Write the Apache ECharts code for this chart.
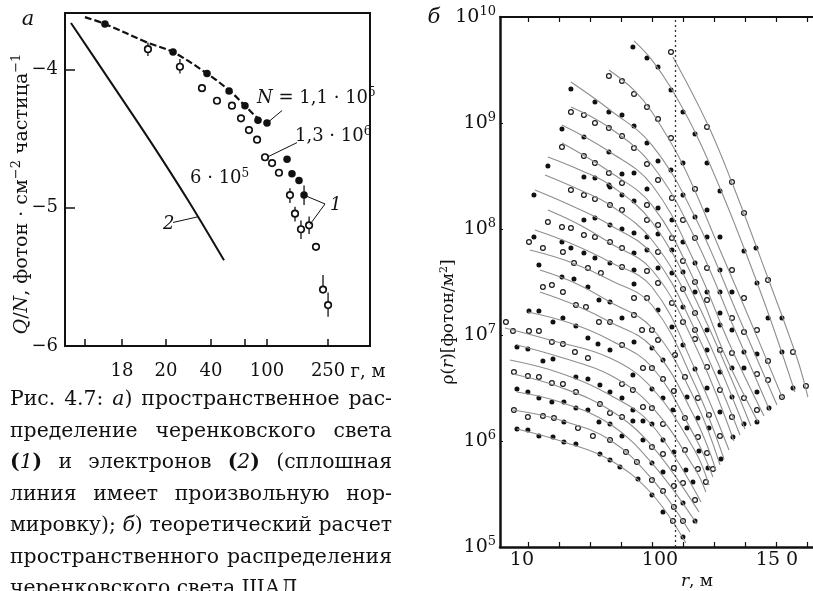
<!DOCTYPE html>
<html>
<head>
<meta charset="utf-8">
<script src="https://cdn.jsdelivr.net/npm/echarts@6/dist/echarts.min.js"></script>
<style>
html, body { margin: 0; padding: 0; background: #fff; }
#chart { width: 813px; height: 591px; }
</style>
</head>
<body>
<div id="chart"></div>
<script>
// ---------- Panel а: Q/N versus distance (x in lg r, y in lg Q/N) ----------
const aTickPos = [0.81, 1.052, 1.34, 1.634, 1.856, 2.0, 2.399];
const aLabelPos = [1.052, 1.34, 1.634, 2.0, 2.399];
const aLabelText = ['18', '20', '40', '100', '250'];
const aYTicks = [-6, -5, -4];

// Cherenkov light, filled circles
const aFilled = [[0.941,-3.669],[1.386,-3.873],[1.608,-4.028],[1.752,-4.155],[1.856,-4.261],
  [1.941,-4.366],[2.0,-4.387],[2.131,-4.648],[2.163,-4.754],[2.209,-4.803],[2.242,-4.908]];
// Cherenkov light, open circles
const aOpen = [[1.222,-3.852],[1.431,-3.979],[1.575,-4.134],[1.673,-4.225],[1.771,-4.261],
  [1.830,-4.352],[1.882,-4.437],[1.935,-4.507],[1.987,-4.634],[2.033,-4.676],[2.078,-4.746],
  [2.150,-4.908],[2.183,-5.042],[2.222,-5.155],[2.275,-5.127],[2.320,-5.282],[2.366,-5.592],[2.399,-5.704]];
// error bars: [lg r, low, high]
const aErr = [[1.222,-3.803,-3.901],[1.431,-3.923,-4.028],[2.150,-4.859,-4.965],[2.183,-4.993,-5.099],
  [2.222,-5.092,-5.225],[2.275,-5.063,-5.190],[2.242,-4.838,-4.979],[2.366,-5.486,-5.613],[2.399,-5.613,-5.789]];
// dashed fit through the N = 1,1·10^5 points
const aFit = [[0.810,-3.620],[0.941,-3.669],[1.216,-3.803],[1.386,-3.873],[1.608,-4.028],
  [1.758,-4.155],[1.856,-4.261],[1.941,-4.352],[2.0,-4.387]];
// electrons (curve 2)
const aElectron = [[0.719,-3.662],[0.980,-4.092],[1.239,-4.521],[1.487,-4.951],[1.719,-5.380]];

// annotations of panel а
const aNotes = ['{i|N}{n| = 1,1 · 10}{s|5}', '{n|1,3 · 10}{s|6}', '{n|6 · 10}{s|5}', '{i|2}', '{i|1}'];
const aNotePos = [[1.935,-4.204],[2.183,-4.486],[1.497,-4.789],[1.320,-5.120],[2.412,-4.979]];
const aLeaders = [
  [[2.098,-4.296],[2.0,-4.387]],
  [[2.196,-4.528],[2.0,-4.634]],
  [[1.386,-5.106],[1.556,-5.063]],
  [[2.379,-4.972],[2.242,-4.908]],
  [[2.379,-4.972],[2.281,-5.120]]
];

// ---------- Panel б: ρ(r) (x in lg r, y in lg ρ) ----------
const bTickPos = [1.043,1.268,1.493,1.717,1.942,2.167,2.391,2.616,2.841,3.065];
const bLabelPos = [1, 2, 2.848];
const bLabelText = ['10', '100', '15 0'];
const bDottedR = 2.109;

// theoretical curves, one per shower size
const bCurves = [
  [[2.094,9.623],[2.348,8.981],[2.543,8.368],[2.761,7.613],[2.993,6.783],[3.072,6.415]],
  [[1.812,9.774],[1.942,9.594],[2.080,9.330],[2.254,8.915],[2.435,8.387],[2.609,7.821],[2.797,7.160],[2.978,6.462]],
  [[1.630,9.500],[1.812,9.311],[1.942,9.104],[2.167,8.604],[2.435,7.802],[2.652,7.142],[2.891,6.396]],
  [[1.355,9.387],[1.638,9.123],[1.942,8.792],[2.254,8.113],[2.580,7.142],[2.848,6.340]],
  [[1.355,9.151],[1.638,8.953],[1.942,8.604],[2.254,7.915],[2.543,7.047],[2.797,6.283]],
  [[1.290,8.981],[1.638,8.726],[1.942,8.415],[2.254,7.679],[2.507,6.906],[2.754,6.236]],
  [[1.290,8.811],[1.638,8.538],[1.942,8.226],[2.254,7.500],[2.471,6.811],[2.710,6.179]],
  [[1.188,8.679],[1.420,8.557],[1.638,8.415],[1.942,8.066],[2.254,7.349],[2.659,6.142]],
  [[1.167,8.509],[1.420,8.368],[1.638,8.226],[1.942,7.896],[2.254,7.208],[2.616,6.113]],
  [[1.094,8.368],[1.348,8.226],[1.638,8.038],[1.942,7.764],[2.254,7.047],[2.580,6.057]],
  [[1.188,8.179],[1.420,8.038],[1.638,7.868],[1.942,7.613],[2.254,6.906],[2.536,6.000]],
  [[1.094,7.991],[1.348,7.868],[1.638,7.689],[1.942,7.453],[2.254,6.679],[2.500,5.915]],
  [[1.058,7.802],[1.348,7.689],[1.638,7.519],[1.942,7.283],[2.254,6.528],[2.464,5.830]],
  [[1.130,7.613],[1.384,7.491],[1.638,7.311],[1.942,7.066],[2.254,6.387],[2.435,5.774]],
  [[1.130,7.406],[1.384,7.283],[1.638,7.123],[1.942,6.887],[2.254,6.217],[2.406,5.726]],
  [[1.043,7.217],[1.348,7.113],[1.638,6.953],[1.942,6.698],[2.254,6.038],[2.384,5.660]],
  [[0.877,7.066],[1.203,6.953],[1.638,6.783],[1.942,6.500],[2.254,5.906],[2.355,5.585]],
  [[0.964,6.906],[1.275,6.792],[1.638,6.623],[1.942,6.321],[2.254,5.736],[2.333,5.519]],
  [[0.913,6.764],[1.275,6.642],[1.638,6.434],[1.942,6.151],[2.297,5.425]],
  [[0.935,6.632],[1.275,6.509],[1.638,6.292],[1.942,5.953],[2.283,5.330]],
  [[0.964,6.462],[1.275,6.368],[1.638,6.160],[1.942,5.792],[2.268,5.217]],
  [[0.935,6.292],[1.275,6.198],[1.638,6.009],[1.942,5.642],[2.217,5.142]],
  [[0.964,6.113],[1.304,5.991],[1.638,5.821],[1.942,5.500],[2.188,5.038]]
];

// simulated densities, filled circles
const bFilled = [[1.804,9.717],[1.906,9.613],[1.355,9.321],[1.529,9.198],[1.630,9.104],[1.725,9.075],[1.812,8.972],[1.906,8.811],[1.290,8.943],[1.449,8.868],[1.630,8.726],[1.725,8.519],[1.812,8.528],[1.188,8.594],[1.449,8.491],[1.529,8.481],[1.630,8.415],
  [1.986,9.528],[2.080,9.311],[2.167,9.104],[2.254,8.896],[1.986,8.642],[2.080,8.557],[2.167,8.623],[2.341,8.623],
  [2.435,8.358],[2.167,8.321],[1.986,8.198],[2.341,8.179],[2.087,8.085],[2.254,8.113],[2.435,7.925],[2.341,7.925],[1.986,7.953],[2.167,7.877],[2.696,7.821],[2.609,7.792],[2.087,7.802],[2.254,7.679],[2.435,7.613],[2.703,7.491],[1.986,7.632],[2.087,7.585],[2.167,7.594],[2.254,7.406],[2.341,7.406],[2.435,7.406],[2.522,7.406],[2.167,7.264],[2.435,7.208],[2.884,7.160],[2.783,7.160],[1.986,7.236],[2.087,7.075],[2.341,7.047],[2.435,7.094],[2.522,7.047],[2.167,6.906],[2.341,6.858],[2.609,6.840],[2.703,6.821],[2.884,6.840],[1.942,6.877],[2.022,6.764],
  [2.254,6.679],[2.435,6.651],[2.522,6.689],[2.609,6.689],[2.964,6.500],[1.942,6.491],[2.022,6.406],[2.196,6.415],[2.341,6.500],[2.522,6.415],[2.703,6.462],[2.790,6.311],[2.094,6.292],[2.275,6.217],[2.435,6.274],[2.609,6.160],[2.703,6.179],[1.942,6.160],[2.022,6.009],[2.196,6.123],[2.355,6.123],[2.529,6.038],[2.101,5.896],[2.283,5.906],[2.442,5.830],[1.942,5.792],[2.022,5.708],[2.188,5.726],[2.348,5.745],[2.239,5.613],[1.942,5.491],[2.022,5.330],[2.167,5.415],[2.254,5.245],[2.167,5.094],
  [1.087,8.321],[1.638,8.396],[1.725,8.321],[1.812,8.264],[1.906,8.377],[1.449,8.085],[1.529,8.104],[1.638,8.038],[1.725,8.000],[1.812,7.962],[1.906,7.925],[1.087,7.925],[1.290,7.877],[1.355,7.821],[1.449,7.774],[1.529,7.726],[1.812,7.774],[1.906,7.802],[1.638,7.679],[1.812,7.613],[1.123,7.660],[1.290,7.547],[1.377,7.528],[1.478,7.453],[1.812,7.481],[1.558,7.330],[1.638,7.311],[1.051,7.226],[1.123,7.226],[1.297,7.160],[1.391,7.085],[1.478,6.972],[1.725,7.160],[1.225,7.123],[1.551,6.915],[1.638,6.858],[1.812,6.934],[0.964,6.887],[1.043,6.868],[1.152,6.755],[1.225,6.774],
  [1.391,6.604],[1.478,6.585],[1.565,6.528],[1.638,6.462],[1.804,6.623],[0.964,6.491],[1.043,6.462],[1.123,6.406],[1.217,6.368],[1.304,6.368],[1.391,6.311],[1.478,6.292],[1.725,6.406],[1.804,6.292],[1.304,6.179],[1.558,6.179],[1.638,6.160],[1.725,6.047],[1.804,6.189],[1.877,6.189],[1.877,6.009],[0.964,6.113],[1.043,6.104],[1.123,6.047],[1.225,6.038],[1.304,5.991],[1.391,5.972],[1.565,5.877],[1.638,5.821],[1.710,5.755],[1.841,5.642]];

// simulated densities, open circles
const bOpen = [[1.630,9.443],[1.725,9.396],[1.812,9.274],[1.906,9.151],[1.355,9.104],[1.449,9.075],[1.529,9.000],[1.630,8.953],[1.725,8.877],[1.812,8.764],[1.906,8.613],[1.290,8.774],[1.449,8.689],[1.529,8.623],[1.630,8.528],[1.725,8.434],
  [2.080,9.670],[1.986,9.038],[2.080,8.858],[2.341,8.962],[1.986,8.462],[2.522,8.443],
  [2.254,8.377],[2.087,8.292],[2.609,8.151],[2.167,8.085],[1.986,8.038],[2.254,7.915],[2.087,7.915],[1.986,7.783],[2.167,7.698],[2.341,7.632],[2.522,7.613],[2.783,7.519],[2.254,7.500],[1.986,7.491],[2.167,7.434],[2.609,7.349],[2.087,7.302],[2.254,7.208],[2.341,7.330],[2.522,7.160],[2.167,7.123],[2.254,7.047],[2.609,7.028],[2.703,7.047],[1.942,7.047],[1.986,6.953],[2.254,6.962],[2.435,6.858],[2.522,6.830],[2.783,6.755],[2.964,6.840],[2.109,6.811],
  [1.942,6.689],[2.022,6.585],[2.181,6.604],[2.341,6.698],[2.703,6.632],[2.783,6.575],[2.884,6.415],[3.058,6.519],[2.101,6.472],[2.275,6.406],[2.435,6.481],[2.609,6.406],[2.703,6.292],[1.942,6.311],[2.022,6.160],[2.181,6.217],[2.355,6.245],[2.522,6.226],[2.275,6.038],[2.435,6.047],[1.942,5.943],[2.022,5.877],[2.181,5.915],[2.341,5.887],[2.101,5.745],[2.275,5.736],[2.384,5.736],[1.942,5.632],[2.022,5.528],[2.101,5.575],[2.167,5.604],[2.333,5.613],[2.101,5.377],[2.254,5.443],[2.094,5.245],[2.167,5.245],
  [1.355,8.368],[1.449,8.321],[1.529,8.283],[1.638,8.226],[1.725,8.179],[1.906,8.226],[1.188,8.066],[1.290,8.019],[1.355,8.009],[1.906,8.085],[1.051,7.877],[1.152,7.821],[1.297,7.783],[1.449,7.943],[1.529,7.925],[1.638,7.877],[1.725,7.821],[1.725,7.642],[1.906,7.604],[1.377,7.679],[1.478,7.632],[1.572,7.585],[1.152,7.453],[1.217,7.472],[1.297,7.406],[1.812,7.349],[1.906,7.349],[1.391,7.283],[1.464,7.264],[1.558,7.123],[1.638,7.123],[1.812,7.189],[0.884,7.123],[0.935,7.038],[1.051,7.038],[1.123,7.038],[1.217,6.934],[1.297,6.915],[1.384,6.840],[1.725,6.906],[1.870,7.047],[1.478,6.783],
  [0.942,6.651],[1.043,6.613],[1.123,6.604],[1.217,6.547],[1.297,6.538],[1.391,6.462],[1.725,6.538],[1.877,6.689],[1.565,6.349],[1.638,6.264],[1.804,6.481],[1.877,6.321],[0.942,6.292],[1.043,6.226],[1.152,6.236],[1.232,6.217],[1.406,6.123],[1.514,6.047],[1.638,6.009],[1.725,6.226],[1.754,5.896],[1.833,5.802]];

// ---------- caption ----------
const captionLines = [
  ['Рис.', '4.7:', '{i|а})', 'пространственное', 'рас-'],
  ['пределение', 'черенковского', 'света'],
  ['{b|(}{i|1}{b|)}', 'и', 'электронов', '{b|(}{i|2}{b|)}', '(сплошная'],
  ['линия', 'имеет', 'произвольную', 'нор-'],
  ['мировку);', '{i|б})', 'теоретический', 'расчет'],
  ['пространственного', 'распределения'],
  ['черенковского', 'света', 'ШАЛ']
];

// ---------- drawing ----------
const SERIF = '"DejaVu Serif", serif';
const INK = '#111';
const chart = echarts.init(document.getElementById('chart'), null, { renderer: 'canvas' });

function near(arr, v) {
  for (let i = 0; i < arr.length; i++) if (Math.abs(arr[i] - v) < 1e-6) return i;
  return -1;
}

// caption layout: justified lines built word by word
const CAP_SIZE = 20.4;
const capRich = {
  i: { fontFamily: SERIF, fontSize: CAP_SIZE, fontStyle: 'italic', fill: INK },
  b: { fontFamily: SERIF, fontSize: CAP_SIZE, fontWeight: 'bold', fill: INK }
};
const measureCtx = document.createElement('canvas').getContext('2d');
function segFont(k) {
  return (k === 'i' ? 'italic ' : '') + (k === 'b' ? 'bold ' : '') + CAP_SIZE + 'px "DejaVu Serif"';
}
function wordWidth(w) {
  let total = 0;
  w.replace(/\{(\w)\|([^}]*)\}|([^{]+)/g, (m, k, t, plain) => {
    measureCtx.font = segFont(k || 'n');
    total += measureCtx.measureText(k ? t : plain).width;
    return m;
  });
  return total;
}
const capLeft = 10, capRight = 392, capTop = 400, capStep = 31.5;
const capGraphics = [];
measureCtx.font = segFont('n');
const spaceW = measureCtx.measureText(' ').width;
captionLines.forEach((words, li) => {
  const widths = words.map(wordWidth);
  const sum = widths.reduce((a, b) => a + b, 0);
  const lastLine = li === captionLines.length - 1;
  const gap = lastLine ? spaceW : (capRight - capLeft - sum) / (words.length - 1);
  let x = capLeft;
  words.forEach((w, wi) => {
    capGraphics.push({
      type: 'text', x: x, y: capTop + li * capStep, silent: true,
      style: { text: w, rich: capRich, fontFamily: SERIF, fontSize: CAP_SIZE, fill: INK,
               align: 'left', verticalAlign: 'middle' }
    });
    x += widths[wi] + gap;
  });
});

// rich styles for superscripts and italics in graphic text
const supRich = (size) => ({
  i: { fontFamily: SERIF, fontSize: size, fontStyle: 'italic', fill: INK, lineHeight: size + 4 },
  s: { fontFamily: SERIF, fontSize: Math.round(size * 0.66), fill: INK, verticalAlign: 'top', lineHeight: size + 4 },
  n: { fontFamily: SERIF, fontSize: size, fill: INK, lineHeight: size + 4 }
});

const titleGraphics = [
  { type: 'text', x: 28, y: 20, style: { text: 'а', fontFamily: SERIF, fontSize: 21, fontStyle: 'italic', fill: INK, align: 'center', verticalAlign: 'middle' } },
  { type: 'text', x: 434, y: 18, style: { text: 'б', fontFamily: SERIF, fontSize: 21, fontStyle: 'italic', fill: INK, align: 'center', verticalAlign: 'middle' } },
  { type: 'text', x: 22, y: 194, rotation: Math.PI / 2,
    style: { text: '{i|Q}{n|/}{i|N}{n|, фотон · см}{s|−2}{n| частица}{s|−1}', rich: supRich(19),
             fontFamily: SERIF, fontSize: 19, fill: INK, align: 'center', verticalAlign: 'middle' } },
  { type: 'text', x: 368, y: 372, style: { text: 'г, м', fontFamily: SERIF, fontSize: 18, fill: INK, align: 'center', verticalAlign: 'middle' } },
  { type: 'text', x: 449, y: 322, rotation: Math.PI / 2,
    style: { text: '{n|ρ(}{i|r}{n|)[фотон/м}{s|2}{n|]}', rich: supRich(17),
             fontFamily: SERIF, fontSize: 17, fill: INK, align: 'center', verticalAlign: 'middle' } },
  { type: 'text', x: 697, y: 582,
    style: { text: '{i|r}{n|, м}', rich: supRich(17), fontFamily: SERIF, fontSize: 17, fill: INK, align: 'center', verticalAlign: 'middle' } }
];

const series = [];

// panel а
series.push({
  type: 'line', xAxisIndex: 0, yAxisIndex: 0, data: aElectron, smooth: 0.3,
  showSymbol: false, lineStyle: { color: INK, width: 2 }, silent: true
});
series.push({
  type: 'line', xAxisIndex: 0, yAxisIndex: 0, data: aFit, smooth: 0.35,
  showSymbol: false, lineStyle: { color: INK, width: 2.2, type: [7, 3] }, silent: true
});
series.push({
  type: 'custom', xAxisIndex: 0, yAxisIndex: 0, data: aErr,
  encode: { x: 0, y: [1, 2] }, silent: true,
  renderItem: (params, api) => {
    const x = api.value(0);
    const p1 = api.coord([x, api.value(1)]);
    const p2 = api.coord([x, api.value(2)]);
    return { type: 'line', shape: { x1: p1[0], y1: p1[1], x2: p2[0], y2: p2[1] },
             style: { stroke: INK, lineWidth: 1.3 } };
  }
});
series.push({
  type: 'scatter', xAxisIndex: 0, yAxisIndex: 0, data: aOpen, symbol: 'circle', symbolSize: 6.5,
  itemStyle: { color: '#fff', borderColor: INK, borderWidth: 1.7, opacity: 1 }, silent: true
});
series.push({
  type: 'scatter', xAxisIndex: 0, yAxisIndex: 0, data: aFilled, symbol: 'circle', symbolSize: 7.5,
  itemStyle: { color: INK, opacity: 1 }, silent: true
});
aLeaders.forEach(seg => series.push({
  type: 'line', xAxisIndex: 0, yAxisIndex: 0, data: seg, showSymbol: false,
  lineStyle: { color: INK, width: 1 }, silent: true
}));

// panel б
bCurves.forEach((c, i) => series.push({
  type: 'line', xAxisIndex: 1, yAxisIndex: 1, data: c, smooth: 0.4,
  showSymbol: false, lineStyle: { color: '#8e8e8e', width: 1.1 }, silent: true,
  markLine: i === 0 ? {
    silent: true, symbol: ['none', 'none'], label: { show: false },
    lineStyle: { color: '#333', width: 1.3, type: [2, 3] },
    data: [{ xAxis: bDottedR }]
  } : undefined
}));
series.push({
  type: 'scatter', xAxisIndex: 1, yAxisIndex: 1, data: bOpen, symbol: 'circle', symbolSize: 4.8,
  itemStyle: { color: '#fff', borderColor: '#1a1a1a', borderWidth: 1.2, opacity: 1 }, silent: true
});
series.push({
  type: 'scatter', xAxisIndex: 1, yAxisIndex: 1, data: bFilled, symbol: 'circle', symbolSize: 5,
  itemStyle: { color: '#111', opacity: 1 }, silent: true
});

const option = {
  animation: false,
  backgroundColor: '#fff',
  grid: [
    { left: 65, top: 13, width: 305, height: 333, show: true, borderColor: INK, borderWidth: 2, backgroundColor: 'transparent' },
    { left: 500, top: 17, width: 313, height: 530 }
  ],
  xAxis: [
    {
      type: 'value', gridIndex: 0, min: 0.68, max: 2.673,
      axisLine: { show: false }, splitLine: { show: false },
      axisTick: { show: true, inside: true, length: 7, customValues: aTickPos, lineStyle: { color: INK, width: 1.5 } },
      axisLabel: { show: true, customValues: aLabelPos, margin: 16, fontFamily: SERIF, fontSize: 18, color: INK,
                   formatter: v => { const k = near(aLabelPos, v); return k >= 0 ? aLabelText[k] : ''; } }
    },
    {
      type: 'value', gridIndex: 1, min: 0.841, max: 3.109, position: 'bottom',
      axisLine: { show: true, lineStyle: { color: INK, width: 2.5 } }, splitLine: { show: false },
      axisTick: { show: true, inside: true, length: 5, customValues: bTickPos, lineStyle: { color: INK, width: 1.2 } },
      axisLabel: { show: true, customValues: bLabelPos, margin: 4, fontFamily: SERIF, fontSize: 19, color: INK,
                   formatter: v => { const k = near(bLabelPos, v); return k >= 0 ? bLabelText[k] : ''; } }
    },
    {
      type: 'value', gridIndex: 1, min: 0.841, max: 3.109, position: 'top',
      axisLine: { show: true, lineStyle: { color: INK, width: 2 } }, splitLine: { show: false },
      axisTick: { show: true, inside: true, length: 5, customValues: bTickPos, lineStyle: { color: INK, width: 1.2 } },
      axisLabel: { show: false }
    }
  ],
  yAxis: [
    {
      type: 'value', gridIndex: 0, min: -6, max: -3.59,
      axisLine: { show: false }, splitLine: { show: false },
      axisTick: { show: true, inside: true, length: 10, customValues: aYTicks, lineStyle: { color: INK, width: 1.5 } },
      axisLabel: { show: true, customValues: aYTicks, margin: 7, fontFamily: SERIF, fontSize: 18, color: INK,
                   formatter: v => '−' + Math.abs(v) }
    },
    {
      type: 'value', gridIndex: 1, min: 5, max: 10, interval: 1,
      axisLine: { show: true, lineStyle: { color: INK, width: 2.5 } }, splitLine: { show: false },
      axisTick: { show: true, inside: true, length: 3, lineStyle: { color: INK, width: 1 } },
      axisLabel: { show: true, margin: 4, fontFamily: SERIF, fontSize: 19, color: INK,
                   formatter: v => '{b|10}{s|' + v + '}',
                   rich: {
                     b: { fontFamily: SERIF, fontSize: 19, color: INK, lineHeight: 24 },
                     s: { fontFamily: SERIF, fontSize: 13, color: INK, verticalAlign: 'top', lineHeight: 24 }
                   } }
    }
  ],
  graphic: titleGraphics.concat(capGraphics),
  series: series
};

chart.setOption(option);

// annotation texts of panel а, placed through the panel's own coordinate system
const noteGraphics = aNotes.map((t, i) => {
  const p = chart.convertToPixel({ gridIndex: 0 }, aNotePos[i]);
  return {
    type: 'text', x: p[0], y: p[1], silent: true,
    style: { text: t, rich: supRich(18), fontFamily: SERIF, fontSize: 18, fill: INK,
             align: 'left', verticalAlign: 'middle' }
  };
});
chart.setOption({ graphic: titleGraphics.concat(capGraphics, noteGraphics) });
</script>
</body>
</html>
